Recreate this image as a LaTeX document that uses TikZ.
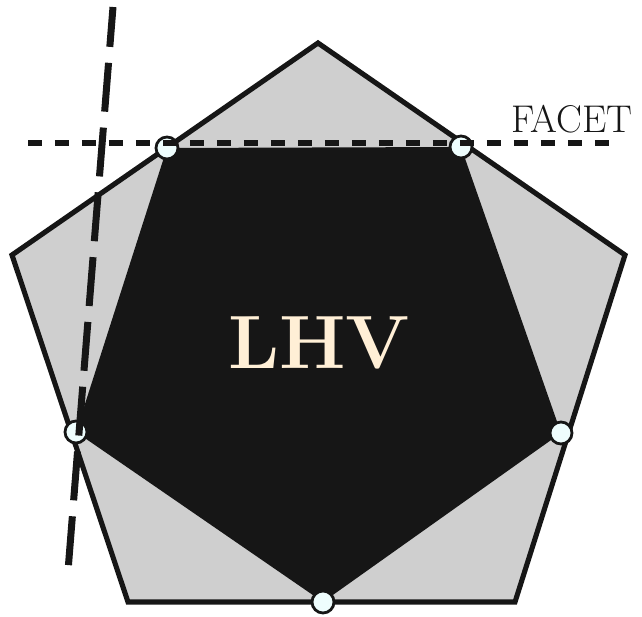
\documentclass[tikz,border=0pt]{standalone}
\usetikzlibrary{calc}
\definecolor{facetgray}{HTML}{CFCFCF}
\definecolor{lhvblack}{HTML}{161616}
\definecolor{vertexfill}{HTML}{EEFDFD}
\definecolor{lhvtext}{HTML}{FFEFD6}
\tikzset{
  vertex/.style={circle, draw=lhvblack, line width=1.6pt, fill=vertexfill, inner sep=0pt, minimum size=0.44cm},
  facetline/.style={lhvblack, line width=0.13cm, dash pattern=on 0.28cm off 0.26cm},
  cutline/.style={lhvblack, line width=0.14cm, dash pattern=on 0.98cm off 0.32cm, dash phase=0.18cm}
}
\begin{document}
\begin{tikzpicture}[x=0.02cm, y=-0.02cm]
  \useasboundingbox (0,0) rectangle (642,617);
  % quantum set (outer pentagon)
  \coordinate (q1) at (318,43);
  \coordinate (q2) at (625,255);
  \coordinate (q3) at (515,602);
  \coordinate (q4) at (128,602);
  \coordinate (q5) at (12,255);
  \fill[facetgray] (q1) -- (q2) -- (q3) -- (q4) -- (q5) -- cycle;
  % local polytope
  \coordinate (l1) at (167,148);
  \coordinate (l2) at (461,147);
  \coordinate (l3) at (561,433);
  \coordinate (l4) at (323,602);
  \coordinate (l5) at (76,432);
  \fill[lhvblack] (l1) -- (l2) -- (l3) -- (l4) -- (l5) -- cycle;
  \draw[lhvblack, line width=2.9pt, line join=miter] (q1) -- (q2) -- (q3) -- (q4) -- (q5) -- cycle;
  \node[lhvtext, font=\fontsize{43}{43}\selectfont\bfseries] (lhv) at (319,343) {LHV};
  % deterministic points
  \foreach \i in {1,...,5}
    \node[vertex] (v\i) at (l\i) {};
  % facet and a second inequality
  \coordinate (fa) at (28,143);
  \coordinate (fb) at (618,143);
  \draw[facetline] (fa) -- (fb);
  \node[lhvblack, font=\fontsize{22}{22}\selectfont, anchor=base east, inner sep=0pt] (facet) at (633,133) {FACET};
  \coordinate (ca) at (113,7);
  \coordinate (cb) at (68,571);
  \draw[cutline] (ca) -- (cb);
\end{tikzpicture}
\end{document}
